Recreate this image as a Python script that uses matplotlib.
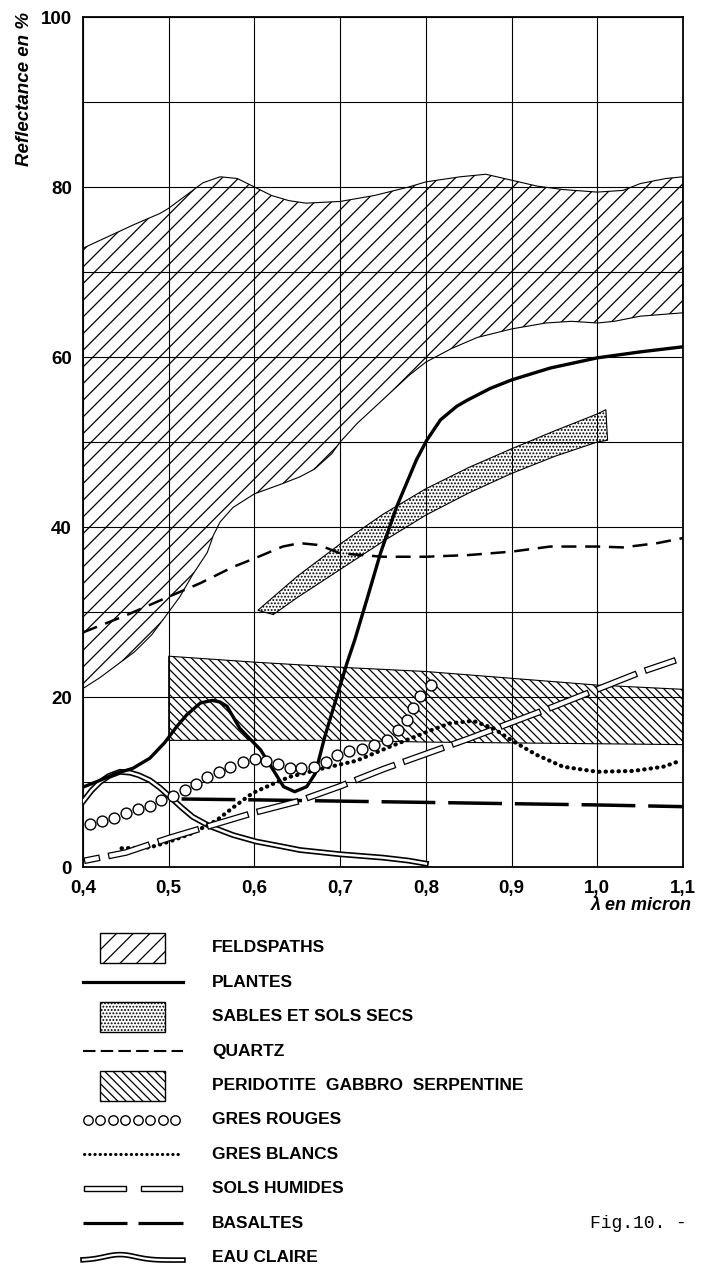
import matplotlib
matplotlib.use("Agg")
import matplotlib.pyplot as plt
import matplotlib.patheffects as pe
import numpy as np

plt.rcParams['font.family'] = ['Liberation Sans', 'DejaVu Sans']
plt.rcParams['hatch.linewidth'] = 0.9

# --- donnees (lambda en micron, reflectance en %) ---
feld_x_hi = [0.40, 0.43, 0.46, 0.49, 0.50, 0.52, 0.54, 0.56, 0.58, 0.60, 0.62, 0.64, 0.66,
             0.70, 0.74, 0.78, 0.80, 0.84, 0.87, 0.90, 0.93, 0.96, 1.00, 1.03, 1.05, 1.08, 1.10]
feld_hi = [72.8, 74.2, 75.6, 76.9, 77.5, 79.0, 80.5, 81.2, 81.0, 80.0, 79.0, 78.4, 78.1,
           78.3, 79.0, 80.0, 80.6, 81.2, 81.5, 80.8, 80.1, 79.7, 79.4, 79.6, 80.4, 81.0, 81.2]
feld_x_lo = [0.40, 0.42, 0.44, 0.46, 0.48, 0.50, 0.513, 0.528, 0.545, 0.552, 0.56, 0.575,
             0.60, 0.63, 0.653, 0.67, 0.69, 0.70, 0.72, 0.75, 0.78, 0.80, 0.83, 0.86, 0.90,
             0.94, 0.97, 1.00, 1.02, 1.05, 1.10]
feld_lo = [21.0, 22.3, 23.8, 25.3, 27.3, 30.0, 31.8, 34.4, 37.0, 39.0, 40.6, 42.3,
           43.9, 45.0, 45.9, 46.8, 48.6, 50.0, 52.2, 55.0, 57.8, 59.4, 61.0, 62.3, 63.3,
           64.0, 64.2, 64.0, 64.2, 64.8, 65.2]

plantes_x = [0.40, 0.42, 0.438, 0.458, 0.478, 0.495, 0.51, 0.521, 0.537, 0.551, 0.56, 0.568,
             0.583, 0.607, 0.622, 0.634, 0.647, 0.661, 0.671, 0.682, 0.696, 0.708, 0.717,
             0.731, 0.747, 0.766, 0.789, 0.801, 0.817, 0.836, 0.848, 0.875, 0.90, 0.945,
             1.00, 1.05, 1.10]
plantes_y = [9.4, 10.2, 11.0, 11.6, 12.8, 14.6, 16.6, 17.9, 19.3, 19.6, 19.4, 18.9,
             16.3, 13.8, 11.4, 9.45, 8.86, 9.45, 11.0, 15.3, 20.0, 24.0, 26.7,
             31.4, 36.9, 42.4, 47.9, 50.2, 52.6, 54.2, 54.9, 56.3, 57.3, 58.7,
             59.9, 60.6, 61.2]

sables_x_hi = [0.604, 0.65, 0.70, 0.75, 0.80, 0.85, 0.90, 0.95, 1.00, 1.01]
sables_hi = [30.2, 34.2, 38.0, 41.5, 44.5, 47.0, 49.2, 51.3, 53.3, 53.8]
sables_x_lo = [0.622, 0.65, 0.70, 0.75, 0.80, 0.85, 0.90, 0.95, 1.00, 1.012]
sables_lo = [29.7, 31.7, 35.0, 38.3, 41.4, 44.0, 46.3, 48.3, 50.0, 50.2]

quartz_x = [0.40, 0.45, 0.50, 0.537, 0.575, 0.60, 0.633, 0.653, 0.673, 0.685, 0.70, 0.75,
            0.80, 0.85, 0.90, 0.945, 1.00, 1.03, 1.07, 1.10]
quartz_y = [27.6, 29.6, 31.8, 33.4, 35.3, 36.3, 37.7, 38.1, 37.9, 37.5, 36.9, 36.5,
            36.5, 36.7, 37.1, 37.7, 37.7, 37.6, 38.1, 38.7]

perid_x = [0.50, 0.60, 0.70, 0.80, 0.90, 1.00, 1.10]
perid_hi = [24.8, 24.1, 23.5, 23.0, 22.2, 21.4, 20.9]
perid_lo = [14.9, 14.9, 14.9, 14.7, 14.6, 14.5, 14.4]

rouges_x = [0.408, 0.422, 0.436, 0.450, 0.464, 0.478, 0.491, 0.505, 0.519, 0.532, 0.545,
            0.559, 0.572, 0.587, 0.601, 0.614, 0.628, 0.641, 0.654, 0.669, 0.683, 0.696,
            0.710, 0.725, 0.740, 0.755, 0.768, 0.778, 0.785, 0.793, 0.806]
rouges_y = [5.06, 5.4, 5.8, 6.3, 6.8, 7.2, 7.9, 8.35, 9.06, 9.8, 10.55,
            11.2, 11.8, 12.4, 12.7, 12.5, 12.1, 11.7, 11.7, 11.8, 12.3, 13.2,
            13.7, 13.9, 14.35, 15.0, 16.1, 17.3, 18.7, 20.1, 21.4]

blancs_x = [0.445, 0.478, 0.501, 0.528, 0.556, 0.579, 0.598, 0.622, 0.641, 0.68, 0.719,
            0.758, 0.809, 0.828, 0.855, 0.879, 0.90, 0.929, 0.96, 1.00, 1.042, 1.077, 1.097]
blancs_y = [2.2, 2.3, 3.0, 4.0, 5.5, 7.3, 8.7, 9.8, 10.6, 11.6, 12.5,
            14.15, 16.2, 16.9, 17.2, 16.3, 14.9, 13.2, 11.8, 11.2, 11.3, 11.8, 12.5]

humides_x = [0.405, 0.45, 0.50, 0.55, 0.60, 0.65, 0.70, 0.75, 0.80, 0.85, 0.90, 0.95,
             1.00, 1.05, 1.088]
humides_y = [0.8, 1.7, 3.4, 4.9, 6.4, 7.7, 9.5, 11.5, 13.3, 15.1, 17.0, 18.9,
             20.9, 22.9, 24.2]

basaltes_x = [0.515, 0.60, 0.70, 0.80, 0.90, 1.00, 1.10]
basaltes_y = [8.0, 7.9, 7.75, 7.6, 7.45, 7.3, 7.1]

eau_x = [0.40, 0.41, 0.42, 0.43, 0.443, 0.455, 0.465, 0.478, 0.49, 0.501, 0.515, 0.528,
         0.548, 0.575, 0.602, 0.633, 0.653, 0.70, 0.75, 0.78, 0.80]
eau_y = [7.7, 9.0, 10.0, 10.7, 11.2, 11.1, 10.8, 10.2, 9.3, 8.3, 7.0, 5.9,
         4.8, 3.76, 3.0, 2.4, 2.0, 1.5, 1.1, 0.75, 0.4]

xticks = [0.4, 0.5, 0.6, 0.7, 0.8, 0.9, 1.0, 1.1]
xlabels = ['0,4', '0,5', '0,6', '0,7', '0,8', '0,9', '1,0', '1,1']
yticks = [0, 20, 40, 60, 80, 100]

legend_labels = ['FELDSPATHS', 'PLANTES', 'SABLES ET SOLS SECS', 'QUARTZ',
                 'PERIDOTITE  GABBRO  SERPENTINE', 'GRES ROUGES', 'GRES BLANCS',
                 'SOLS HUMIDES', 'BASALTES', 'EAU CLAIRE']

W, H = 709, 1267
fig = plt.figure(figsize=(W / 100, H / 100), dpi=100)
ax = fig.add_axes([83 / W, 400 / H, 600 / W, 850 / H])

ax.set_xlim(0.4, 1.1)
ax.set_ylim(0, 100)
ax.set_xticks(xticks)
ax.set_xticklabels(xlabels)
ax.set_yticks(yticks)
ax.set_yticks([10, 30, 50, 70, 90], minor=True)
ax.grid(True, which='both', color='black', lw=0.8)
ax.set_axisbelow(True)
ax.tick_params(which='both', length=0, labelsize=13.5)
ax.tick_params(axis='x', pad=9)
ax.tick_params(axis='y', pad=8)
for lab in ax.get_xticklabels() + ax.get_yticklabels():
    lab.set_fontweight('bold')
for sp in ax.spines.values():
    sp.set_linewidth(1.3)

# bandes
ax.fill(np.concatenate([feld_x_hi, feld_x_lo[::-1]]), np.concatenate([feld_hi, feld_lo[::-1]]),
        facecolor='none', edgecolor='black', hatch='//', lw=0.8, zorder=2)
ax.fill(np.concatenate([sables_x_hi, sables_x_lo[::-1]]), np.concatenate([sables_hi, sables_lo[::-1]]),
        facecolor='none', edgecolor='black', hatch='.....', lw=0.8, zorder=2)
ax.fill_between(perid_x, perid_lo, perid_hi, facecolor='none', edgecolor='black',
                hatch='\\\\\\\\', lw=0.8, zorder=2)

# courbes
ax.plot(eau_x, eau_y, color='white', lw=1.8, zorder=3,
        path_effects=[pe.Stroke(linewidth=4.2, foreground='black'), pe.Normal()])
ax.plot(quartz_x, quartz_y, color='black', lw=1.8, ls=(0, (6, 3.5)), zorder=3)
ax.plot(basaltes_x, basaltes_y, color='black', lw=2.5, ls=(0, (15.5, 3.7)), zorder=3)
ax.plot(blancs_x, blancs_y, color='black', lw=3.0, ls=(0, (0.1, 1.45)),
        dash_capstyle='round', zorder=3)
ax.plot(plantes_x, plantes_y, color='black', lw=2.4, zorder=3)
ax.plot(humides_x, humides_y, color='white', lw=3.0, ls=(6.5, (8.8, 3.6)),
        dash_capstyle='projecting', zorder=4,
        path_effects=[pe.Stroke(linewidth=4.8, foreground='black'), pe.Normal()])
ax.plot(rouges_x, rouges_y, ls='none', marker='o', ms=7.8, mfc='white', mec='black',
        mew=1.0, zorder=5)

# titres des axes
fig.text(25 / W, 1 - 12 / H, 'Reflectance en %', rotation=90, ha='center', va='top',
         fontsize=13.5, fontweight='bold', style='italic')
fig.text(692 / W, 1 - 905 / H, '\u03bb en micron', ha='right', va='center',
         fontsize=13, fontweight='bold', style='italic')

# legende dessinee a la main
lg = fig.add_axes([0, 0, 1, 1], facecolor='none')
lg.set_xlim(0, W)
lg.set_ylim(H, 0)
lg.axis('off')
rows = [948 + 34.4 * i for i in range(10)]
for yy, txt in zip(rows, legend_labels):
    lg.text(212, yy, txt, ha='left', va='center', fontsize=12.5, fontweight='bold')

lg.add_patch(plt.Rectangle((100, rows[0] - 15), 65, 30, facecolor='none', edgecolor='black',
                           hatch='//', lw=1.0))
lg.plot([83, 183], [rows[1], rows[1]], color='black', lw=2.3)
lg.add_patch(plt.Rectangle((100, rows[2] - 15), 65, 30, facecolor='none', edgecolor='black',
                           hatch='.....', lw=1.0))
lg.plot([83, 183], [rows[3], rows[3]], color='black', lw=1.5, ls=(0, (6, 2.5)))
lg.add_patch(plt.Rectangle((100, rows[4] - 15), 65, 30, facecolor='none', edgecolor='black',
                           hatch='\\\\\\\\', lw=1.0))
lg.plot(np.linspace(88, 175, 8), [rows[5]] * 8, ls='none', marker='o', ms=6.8, mfc='white',
        mec='black', mew=1.0)
lg.plot([84, 178], [rows[6], rows[6]], color='black', lw=2.2, ls=(0, (0.1, 1.6)),
        dash_capstyle='round')
for x0, x1 in [(84, 126), (141, 182)]:
    lg.add_patch(plt.Rectangle((x0, rows[7] - 2.5), x1 - x0, 5, facecolor='white',
                               edgecolor='black', lw=1.0))
for x0, x1 in [(83, 127), (138, 183)]:
    lg.plot([x0, x1], [rows[8], rows[8]], color='black', lw=2.3, solid_capstyle='butt')
wx = np.linspace(83, 183, 60)
wy = rows[9] + 2.5 - 5.5 * np.exp(-((wx - 120) / 22) ** 2)
lg.plot(wx, wy, color='white', lw=1.6,
        path_effects=[pe.Stroke(linewidth=4.0, foreground='black'), pe.Normal()])

lg.text(590, 1223, 'Fig.10. -', ha='left', va='center', fontsize=13,
        family=['Liberation Mono', 'DejaVu Sans Mono'])

fig.savefig('out.png', dpi=100)
